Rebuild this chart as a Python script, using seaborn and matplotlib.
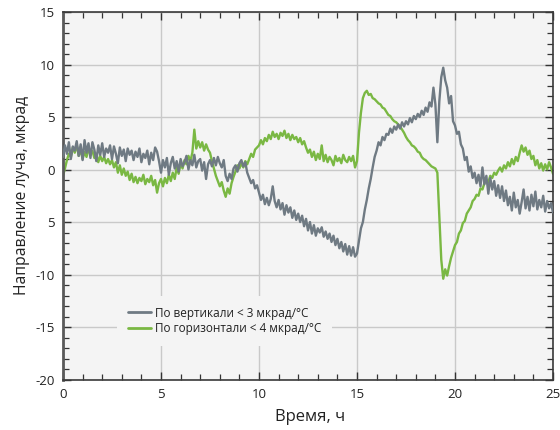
import numpy as np
import pandas as pd
import matplotlib
matplotlib.use("Agg")
import matplotlib.pyplot as plt
from matplotlib.ticker import MultipleLocator
import seaborn as sns

# Time axis: samples every 0.1 h from 0 to 25 h
hours = np.round(np.arange(0, 251) * 0.1, 1)

# Beam direction, vertical plane (mrad)
vertical = [
    1.2, 2.3, 1.5, 2.6, 1.0, 2.2, 1.8, 2.7, 1.3, 2.4, 0.9, 2.8, 1.6, 2.5, 1.1, 2.6, 1.9, 0.8, 2.3, 1.4, 2.5, 1.2, 2.0, 1.6, 2.3,
    1.0, 2.2, 1.5, 0.6, 2.1, 1.3, 1.9, 0.8, 2.0, 1.4, 1.8, 0.9, 1.7, 1.2, 2.0, 0.7, 1.5, 1.1, 1.8, 0.5, 1.6, 0.9, 2.1, 1.7, 0.8,
    -0.3, 0.9, 0.2, 1.1, -0.5, 0.6, 1.2, 0.1, 0.8, -0.2, 1.0, 0.3, 0.7, 1.3, 0.0, 0.9, 0.4, 1.4, 0.2, 0.8, 1.0, -0.1, 0.7, -0.9, 0.5,
    0.9, 0.3, 1.1, 0.4, 1.2, 0.6, 0.2, 0.9, -0.6, -1.1, -0.4, -0.9, 0.1, 0.4, -0.2, 0.6, 0.9, 0.3, 0.7, -0.3, -0.8, -1.3, -1.0, -1.8, -1.5,
    -2.2, -2.9, -2.4, -3.3, -2.7, -3.4, -2.8, -1.6, -3.0, -3.6, -2.9, -3.8, -3.2, -4.3, -3.4, -4.1, -3.6, -4.6, -3.9, -4.8, -4.2, -5.0, -4.4, -5.4, -4.7,
    -5.8, -5.0, -6.1, -5.3, -6.3, -5.6, -6.0, -5.5, -6.4, -5.9, -6.6, -6.1, -6.9, -6.3, -7.2, -6.6, -7.5, -6.9, -7.8, -7.1, -8.1, -7.3, -8.2, -7.4, -8.3,
    -8.0, -6.8, -5.6, -5.0, -3.8, -2.9, -1.8, -0.9, 0.2, 1.2, 1.8, 2.6, 2.3, 3.1, 2.8, 3.4, 3.3, 3.9, 3.5, 4.1, 3.8, 4.3, 3.9, 4.5, 4.1,
    4.6, 4.3, 4.9, 4.5, 5.1, 4.8, 5.3, 5.0, 5.6, 5.2, 5.9, 5.5, 6.4, 6.0, 7.8, 6.2, 2.6, 6.5, 8.8, 9.7, 8.5, 7.8, 6.3, 7.0, 4.6,
    4.2, 3.4, 3.6, 2.4, 2.0, 0.9, 1.2, -0.2, 0.3, -0.8, -0.3, -1.3, -0.5, -1.6, 0.2, -1.4, -0.6, -2.3, -0.8, -1.9, -1.1, -2.5, -1.5, -2.7, -1.6,
    -3.0, -2.0, -3.4, -2.6, -3.9, -2.2, -3.6, -2.9, -4.2, -3.1, -1.9, -3.7, -2.6, -3.9, -2.4, -3.5, -2.1, -3.8, -2.9, -3.6, -2.5, -4.0, -3.0, -3.7, -3.2, -4.1,
]

# Beam direction, horizontal plane (mrad)
horizontal = [
    -0.6, 0.1, 0.9, 1.5, 1.2, 2.1, 1.6, 2.4, 1.3, 1.9, 1.0, 1.7, 1.2, 2.0, 1.4, 1.8, 1.1, 1.5, 0.7, 1.3, 0.8, 1.2, 0.6, 1.0, 0.5,
    0.9, 0.2, 0.7, -0.3, 0.4, -0.5, 0.1, -0.6, -0.2, -1.0, -0.4, -1.2, -0.7, -1.3, -0.8, -1.1, -0.5, -1.4, -0.9, -1.2, -0.6, -1.5, -1.0, -2.2, -1.3,
    -0.9, -1.6, -0.8, -1.3, -0.5, -1.1, -0.3, -0.9, 0.2, -0.4, 0.6, 0.1, 0.9, 0.5, 1.3, 0.8, 1.6, 3.8, 2.0, 2.7, 2.1, 2.6, 1.8, 2.4, 1.9,
    1.6, 0.8, 0.1, -0.6, -1.1, -1.6, -1.2, -2.0, -2.6, -1.8, -2.3, -1.3, -0.7, -0.2, 0.4, 0.1, 0.6, 0.2, 0.8, 0.5, 1.0, 1.5, 1.2, 1.9, 2.1,
    2.3, 2.8, 2.4, 3.0, 2.7, 3.3, 2.9, 3.6, 3.1, 3.4, 2.9, 3.5, 3.2, 3.7, 3.0, 3.4, 2.8, 3.3, 2.9, 3.1, 2.6, 3.0, 2.4, 2.7, 2.1,
    1.6, 1.9, 1.2, 1.7, 0.9, 1.5, 1.0, 2.3, 0.8, 1.4, 0.7, 1.2, 0.9, 0.4, 1.3, 0.8, 1.1, 0.6, 1.4, 0.9, 0.7, 1.2, 0.8, 1.3, 0.2,
    0.8, 3.5, 5.4, 6.8, 7.3, 7.5, 7.1, 7.2, 6.8, 6.7, 6.5, 6.3, 6.2, 5.9, 5.8, 5.5, 5.2, 5.1, 4.8, 4.6, 4.5, 4.3, 4.1, 3.8, 3.5,
    3.1, 2.8, 2.6, 2.3, 2.2, 2.0, 1.7, 1.6, 1.2, 1.0, 0.9, 0.7, 0.5, 0.3, 0.2, 0.1, -0.3, -4.5, -8.6, -10.4, -9.5, -10.1, -9.2, -8.4, -7.8,
    -7.2, -6.9, -6.1, -5.8, -5.1, -4.9, -4.2, -3.9, -3.6, -3.0, -2.8, -2.4, -2.5, -1.8, -1.9, -1.3, -1.1, -1.2, -0.6, -0.8, -0.3, -0.5, -0.1, 0.2, -0.2,
    0.4, 0.1, 0.7, 0.3, 1.0, 0.5, 1.2, 0.8, 1.6, 2.3, 1.7, 2.1, 1.4, 1.8, 1.0, 1.3, 0.4, 0.9, 0.1, 0.6, -0.1, 0.5, 0.0, 0.7, 0.2, -0.4,
]

series_labels = ["По вертикали < 3 мкрад/°C", "По горизонтали < 4 мкрад/°C"]
series_colors = ["#6f7a83", "#7ab843"]

x_ticks = [0, 5, 10, 15, 20, 25]
y_ticks = [15, 10, 5, 0, -5, -10, -15, -20]
y_tick_labels = ["15", "10", "5", "0", "5", "-10", "-15", "-20"]

df = pd.DataFrame({
    "t": np.concatenate([hours, hours]),
    "value": np.concatenate([vertical, horizontal]),
    "series": [series_labels[0]] * len(hours) + [series_labels[1]] * len(hours),
})

sns.set_theme(style="ticks")
plt.rcParams["font.family"] = ["Open Sans", "DejaVu Sans"]

fig = plt.figure(figsize=(5.6, 4.3), dpi=100)
ax = fig.add_axes([0.1125, 0.1174, 0.875, 0.8546])
ax.set_facecolor("#f4f4f4")

# horizontal series underneath, vertical series on top
sns.lineplot(data=df[df.series == series_labels[1]], x="t", y="value",
             color=series_colors[1], lw=1.7, ax=ax, zorder=2,
             label=series_labels[1], estimator=None)
sns.lineplot(data=df[df.series == series_labels[0]], x="t", y="value",
             color=series_colors[0], lw=1.7, ax=ax, zorder=3,
             label=series_labels[0], estimator=None)

ax.set_xlim(0, 25)
ax.set_ylim(-20, 15)
ax.set_xticks(x_ticks)
ax.set_xticklabels([str(v) for v in x_ticks])
ax.set_yticks(y_ticks)
ax.set_yticklabels(y_tick_labels)
ax.xaxis.set_minor_locator(MultipleLocator(1))
ax.yaxis.set_minor_locator(MultipleLocator(1))
ax.grid(True, which="major", color="#c9c9c9", lw=1.0)
ax.set_axisbelow(True)

ax.tick_params(which="both", direction="in", top=True, right=True,
               colors="#333333", labelcolor="#222222", labelsize=9.5)
ax.tick_params(which="major", length=6, width=1.0, pad=6)
ax.tick_params(which="minor", length=4, width=0.9)
for side, spine in ax.spines.items():
    spine.set_color("#3a3a3a")
    spine.set_linewidth(1.2)
ax.spines["left"].set_color("#5a5a5a")
ax.spines["left"].set_linewidth(2.0)

ax.set_xlabel("Время, ч", fontsize=12, color="#222222")
ax.xaxis.set_label_coords(0.505, -0.08)
ax.set_ylabel("Направление луча, мкрад", fontsize=11.3, color="#222222", labelpad=4)

handles, labels = ax.get_legend_handles_labels()
order = [labels.index(series_labels[0]), labels.index(series_labels[1])]
leg = ax.legend([handles[i] for i in order], [labels[i] for i in order],
                loc="center", bbox_to_anchor=(0.33, 0.16), frameon=True,
                facecolor="#f4f4f4", edgecolor="none", framealpha=1.0,
                fontsize=8.5, handlelength=2.0, handletextpad=0.35,
                labelspacing=0.2, borderpad=0.9, borderaxespad=0)
for line in leg.get_lines():
    line.set_linewidth(2.0)
for txt in leg.get_texts():
    txt.set_color("#222222")

fig.savefig("out.png", dpi=100)
